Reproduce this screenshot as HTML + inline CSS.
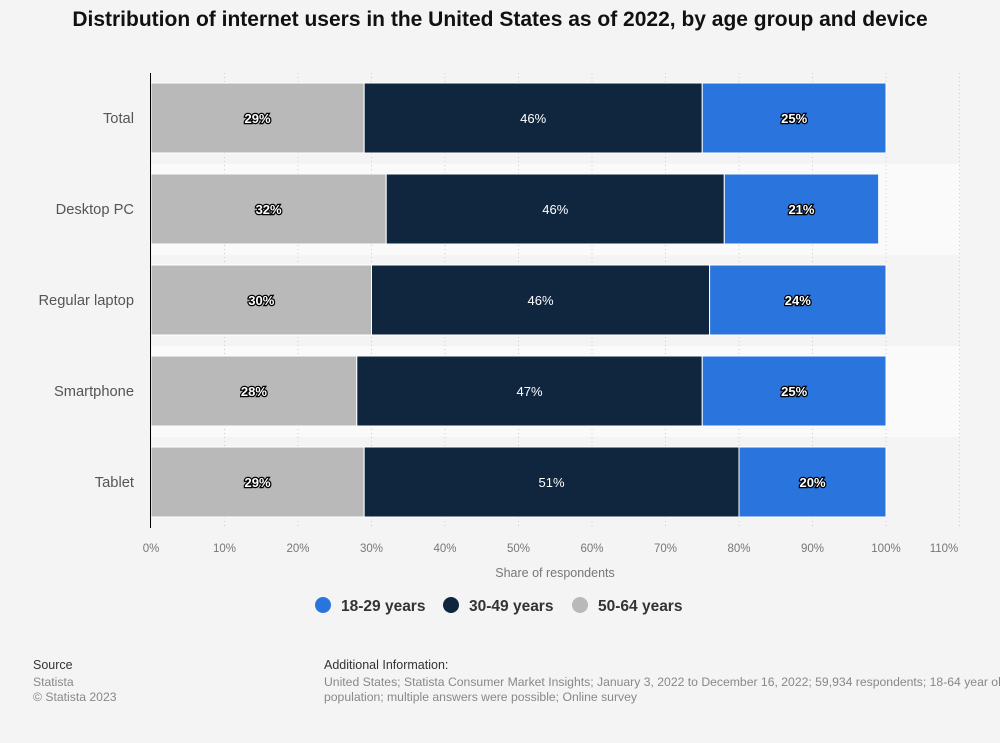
<!DOCTYPE html>
<html><head><meta charset="utf-8"><style>
body{margin:0;background:#f4f4f4;font-family:"Liberation Sans",sans-serif;}
#wrap{position:relative;width:1000px;height:743px;overflow:hidden;background:#f4f4f4}
h1{position:absolute;top:8px;left:0;width:1000px;text-align:center;font-size:21px;font-weight:bold;margin:0;color:#111}
.src{position:absolute;font-size:12.5px;color:#333}
.small{font-size:12.2px;color:#888}
</style></head><body>
<div id="wrap">
<h1>Distribution of internet users in the United States as of 2022, by age group and device</h1>
<svg id="chart" width="1000" height="640" style="position:absolute;left:0;top:0"></svg>
<div class="src" style="left:33px;top:658px">Source</div>
<div class="src small" style="left:33px;top:675px;line-height:15px">Statista<br>© Statista 2023</div>
<div class="src" style="left:324px;top:658px">Additional Information:</div>
<div class="src small" style="left:324px;top:675px;width:760px;line-height:15px;white-space:nowrap">United States; Statista Consumer Market Insights; January 3, 2022 to December 16, 2022; 59,934 respondents; 18-64 year old<br>population; multiple answers were possible; Online survey</div>
</div>
<script>
const categories=["Total","Desktop PC","Regular laptop","Smartphone","Tablet"];
const s5064=[29,32,30,28,29];
const s3049=[46,46,46,47,51];
const s1829=[25,21,24,25,20];
const ticks=[0,10,20,30,40,50,60,70,80,90,100,110];
const NS="http://www.w3.org/2000/svg";
const svg=document.getElementById('chart');
const x0=151,x100=886,top0=73,pitch=91,barH=70;
const X=v=>x0+(x100-x0)*v/100;
const rowY=i=>top0+i*pitch;
function el(t,a,p){const e=document.createElementNS(NS,t);for(const k in a)e.setAttribute(k,a[k]);(p||svg).appendChild(e);return e;}
categories.forEach((c,i)=>{if(i%2==1){const r=el('rect',{x:150,y:rowY(i),width:810,height:pitch,fill:'#fafafa'});

}});
ticks.forEach(t=>{if(t>0){const l=el('line',{x1:X(t),x2:X(t),y1:top0,y2:528,stroke:'#ccc','stroke-dasharray':'1,3'});

}
const tx=el('text',{x:Math.min(X(t),944),y:552,'text-anchor':'middle','font-size':11.5,fill:'#777'});tx.textContent=t+'%';

});
const series=[[s5064,'#b9b9b9','50-64'],[s3049,'#10263f','30-49'],[s1829,'#2a75dd','18-29']];
categories.forEach((c,i)=>{
 const yl=el('text',{x:134,y:rowY(i)+50,'text-anchor':'end','font-size':14.7,fill:'#555'});yl.textContent=c;
 
 
 let acc=0;
 series.forEach(([arr,col,nm])=>{
  const v=arr[i];const y=rowY(i)+10;
  const r=el('rect',{x:X(acc),y:y,width:X(acc+v)-X(acc),height:barH,fill:col,stroke:'#fff','stroke-width':1});
  
  
  const t=el('text',{x:(X(acc)+X(acc+v))/2,y:y+barH/2+5,'text-anchor':'middle','font-size':13,fill:'#fff',stroke:'#000','stroke-width':nm=='30-49'?0:2.5,'paint-order':'stroke','font-weight':nm=='30-49'?'normal':'bold'});
  t.textContent=v+'%';
  
  
  acc+=v;});
});
const ax=el('line',{x1:150.5,x2:150.5,y1:top0,y2:528,stroke:'#000','stroke-width':1});


const at=el('text',{x:555,y:577,'text-anchor':'middle','font-size':12.5,fill:'#777'});at.textContent='Share of respondents';


const leg=[['18-29 years','#2a75dd',323],['30-49 years','#10263f',451],['50-64 years','#b9b9b9',580]];
leg.forEach(([n,c,x])=>{const g=el('g',{});


el('circle',{cx:x,cy:605,r:8,fill:c},g);
const t=el('text',{x:x+18,y:611,'font-size':15.5,'font-weight':'bold',fill:'#333'},g);t.textContent=n;});
</script>
</body></html>
